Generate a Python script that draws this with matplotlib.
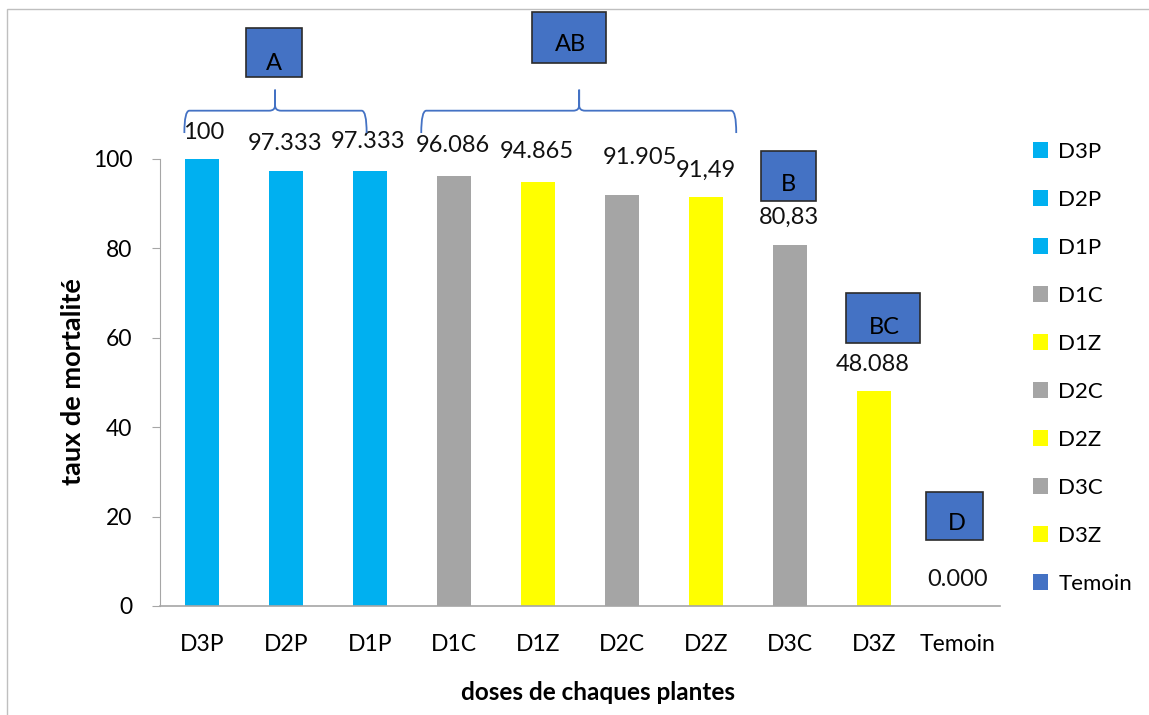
import matplotlib

matplotlib.use("Agg")
import matplotlib.pyplot as plt
from matplotlib.patches import Rectangle, Patch, PathPatch
from matplotlib.path import Path

plt.rcParams["font.family"] = ["Lato", "DejaVu Sans"]

DOSES = ["D3P", "D2P", "D1P", "D1C", "D1Z", "D2C", "D2Z", "D3C", "D3Z", "Temoin"]
MORTALITE = [100, 97.333, 97.333, 96.086, 94.865, 91.905, 91.49, 80.83, 48.088, 0.0]
ETIQUETTES = ["100", "97.333", "97.333", "96.086", "94.865", "91.905", "91,49", "80,83", "48.088", "0.000"]
COULEURS = ["#00B0F0", "#00B0F0", "#00B0F0", "#A5A5A5", "#FFFF00",
            "#A5A5A5", "#FFFF00", "#A5A5A5", "#FFFF00", "#4472C4"]

# groupes statistiques: lettre, boite (x0, x1, y0, y1), position du texte
GROUPES = [
    ("A", (0.52, 1.19, 118.3, 129.3), (0.86, 121.3)),
    ("AB", (3.93, 4.81, 121.5, 132.9), (4.39, 125.5)),
    ("B", (6.65, 7.31, 90.6, 101.8), (6.98, 94.2)),
    ("BC", (7.67, 8.55, 58.8, 70.0), (8.12, 62.2)),
    ("D", (8.62, 9.30, 14.8, 25.5), (8.98, 18.5)),
]
# accolades: x gauche, x droite, x pointe
ACCOLADES = [(-0.21, 1.96, 0.87), (2.61, 6.36, 4.49)]

# décalages des étiquettes (px horizontal, pt vertical)
DX = [2, -1, -2, -1, -1, 18, 0, -1, -1, 0]
DY = [19, 20, 21, 22, 22, 27, 19, 20, 19, 19]

fig = plt.figure(figsize=(11.49, 7.15), dpi=100)
ax = fig.add_axes([160 / 1149, 1 - 606 / 715, 840 / 1149, 603.5 / 715])

x = range(len(DOSES))
bars = ax.bar(x, MORTALITE, width=0.4, color=COULEURS, zorder=2)

for i, (v, lab) in enumerate(zip(MORTALITE, ETIQUETTES)):
    ax.annotate(lab, (i, v), xytext=(DX[i] * 0.72, DY[i]), textcoords="offset points",
                ha="center", va="center", fontsize=17, color="#111111")

ax.set_xlim(-0.5, len(DOSES) - 0.5)
ax.set_ylim(0, 135)
ax.set_yticks(range(0, 101, 20))
ax.set_xticks(list(x))
ax.set_xticklabels(DOSES)
ax.tick_params(axis="x", length=0, pad=20, labelsize=16.5)
ax.tick_params(axis="y", length=6, color="#A6A6A6", pad=14, labelsize=16.5)
for s in ["top", "right"]:
    ax.spines[s].set_visible(False)
ax.spines["left"].set_bounds(0, 100)
ax.spines["left"].set_color("#A6A6A6")
ax.spines["bottom"].set_color("#A6A6A6")
ax.spines["bottom"].set_linewidth(1.2)

# titres des axes
fig.text(73 / 1149, 1 - 382 / 715, "taux de mortalité", rotation=90, ha="center", va="center",
         fontsize=19.5, fontweight="bold")
fig.text(598 / 1149, 1 - 693 / 715, "doses de chaques plantes", ha="center", va="center",
         fontsize=17.5, fontweight="bold")

for lettre, (x0, x1, y0, y1), (tx, ty) in GROUPES:
    ax.add_patch(Rectangle((x0, y0), x1 - x0, y1 - y0, facecolor="#4472C4",
                           edgecolor="#2B2B2B", lw=1.2, zorder=3, clip_on=False))
    ax.text(tx, ty, lettre, ha="center", va="center", fontsize=17, zorder=4, clip_on=False)


def accolade(xg, xd, xp, y_bout=105.8, y_ligne=110.8, y_pointe=115.5):
    rx, rp = 0.06, 0.07
    ry = 1.2
    verts = [(xg, y_bout), (xg, y_ligne), (xg + rx, y_ligne),
             (xp - rp, y_ligne), (xp, y_ligne), (xp, y_ligne + ry), (xp, y_pointe),
             (xd, y_bout), (xd, y_ligne), (xd - rx, y_ligne),
             (xp + rp, y_ligne), (xp, y_ligne), (xp, y_ligne + ry), (xp, y_pointe)]
    codes = [Path.MOVETO, Path.CURVE3, Path.CURVE3, Path.LINETO, Path.CURVE3, Path.CURVE3, Path.LINETO,
             Path.MOVETO, Path.CURVE3, Path.CURVE3, Path.LINETO, Path.CURVE3, Path.CURVE3, Path.LINETO]
    ax.add_patch(PathPatch(Path(verts, codes), fill=False, edgecolor="#4472C4",
                           lw=1.3, clip_on=False, zorder=3))


for xg, xd, xp in ACCOLADES:
    accolade(xg, xd, xp)

handles = [Patch(facecolor=c, edgecolor="none") for c in COULEURS]
fig.legend(handles, DOSES, loc="upper left", bbox_to_anchor=(1024 / 1149, 1 - 133 / 715),
           frameon=False, fontsize=16, handlelength=0.7, handleheight=0.7,
           handletextpad=0.45, labelspacing=1.26, borderaxespad=0)

# cadre du graphique
fig.add_artist(Rectangle((7 / 1149, -0.1), 1.2, 1.1 - 9 / 715, transform=fig.transFigure,
                         fill=False, edgecolor="#BFBFBF", lw=1.0))

fig.savefig("out.png", dpi=100)
